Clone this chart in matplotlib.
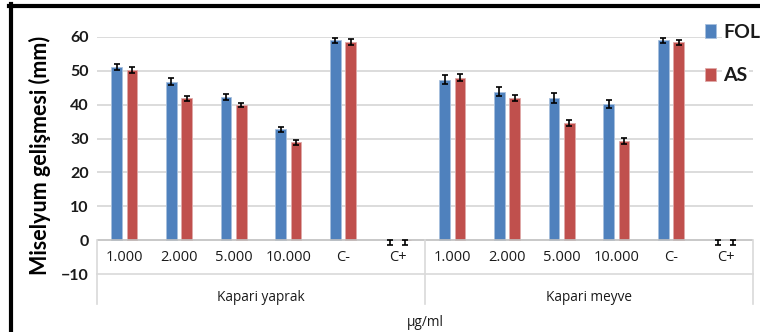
import matplotlib
matplotlib.use("Agg")
import matplotlib.pyplot as plt
from matplotlib.lines import Line2D
import numpy as np

plt.rcParams['font.family'] = ['Lato', 'DejaVu Sans']

# data
categories = ["1.000", "2.000", "5.000", "10.000", "C-", "C+"]
groups = ["Kapari yaprak", "Kapari meyve"]
fol = [51.2, 46.8, 42.2, 32.7, 59.0, 0.0,
       47.4, 43.9, 42.0, 40.2, 59.0, 0.0]
fol_err = [0.9, 1.0, 0.9, 0.8, 0.7, 1.3,
           1.4, 1.3, 1.4, 1.2, 0.7, 1.3]
as_vals = [50.3, 41.9, 39.9, 28.9, 58.4, 0.0,
           48.0, 41.9, 34.6, 29.3, 58.4, 0.0]
as_err = [0.8, 0.8, 0.7, 0.8, 0.9, 1.3,
          1.1, 0.9, 1.0, 1.0, 0.7, 1.3]

blue = "#4f81bd"
red = "#c0504d"
txt = "#1a1a1a"
cat_font = ['Open Sans', 'DejaVu Sans']

fig = plt.figure(figsize=(7.6, 3.32), dpi=100)
ax = fig.add_axes([97/760, 1-274/332, 656/760, 237/332])

x = np.arange(len(fol))
w = 0.195
off = 0.143

def errs(vals, e):
    lo = np.array(e)
    hi = np.where(np.array(vals) == 0, 0.1, e)
    return [lo, hi]

b1 = ax.bar(x - off, fol, w, color=blue, edgecolor="#a7c0de", linewidth=0.6, zorder=3, label="FOL")
b2 = ax.bar(x + off, as_vals, w, color=red, edgecolor="#e0a9a8", linewidth=0.6, zorder=3, label="AS")
ax.errorbar(x - off, fol, yerr=errs(fol, fol_err), fmt="none", ecolor="black",
            elinewidth=1.2, capsize=2.3, capthick=1.2, zorder=5)
ax.errorbar(x + off, as_vals, yerr=errs(as_vals, as_err), fmt="none", ecolor="black",
            elinewidth=1.2, capsize=2.3, capthick=1.2, zorder=5)

ax.set_xlim(-0.5, len(fol) - 0.5)
ax.set_ylim(-10, 60)
ax.set_yticks(range(-10, 61, 10))
ax.tick_params(axis="y", length=0, pad=6, labelsize=11.5)
for t in ax.get_yticklabels():
    t.set_fontweight("bold")
    t.set_color(txt)
ax.set_xticks([])
for s in ["top", "right", "left"]:
    ax.spines[s].set_visible(False)
ax.spines["bottom"].set_color("#d9d9d9")
ax.spines["bottom"].set_linewidth(1.2)

for g in range(10, 61, 10):
    ax.axhline(g, color="#d9d9d9", linewidth=1.3, zorder=1)
ax.axhline(0, color="#bfbfbf", linewidth=1.2, zorder=4)

# multi-level category labels
for i in range(len(fol)):
    ax.text(i, -5.0, categories[i % len(categories)], ha="center", va="center",
            fontsize=10.5, family=cat_font, color=txt)
for gi, g in enumerate(groups):
    ax.text(gi * 6 + 2.5, -16.8, g, ha="center", va="center", fontsize=9.8,
            family=cat_font, color=txt, clip_on=False)
for xs in [-0.5, 5.5, 11.5]:
    ax.plot([xs, xs], [0, -18.9], color="#d9d9d9", linewidth=1.2, clip_on=False, zorder=4)

ax.text(5.5, -24.3, "µg/ml", ha="center", va="center", fontsize=9.8,
        family=cat_font, color=txt, clip_on=False)

ax.set_ylabel("Miselyum gelişmesi (mm)", fontsize=15.5, fontweight="bold", labelpad=7)

leg = ax.legend(handles=[b1, b2], loc="upper left", bbox_to_anchor=(705/760, 1-24/332),
                bbox_transform=fig.transFigure, frameon=False, fontsize=14,
                handlelength=0.55, handleheight=0.7, handletextpad=0.4,
                labelspacing=1.35, borderpad=0, borderaxespad=0)
for t in leg.get_texts():
    t.set_fontweight("bold")
    t.set_color(txt)
    t.set_bbox(dict(facecolor="white", edgecolor="none", pad=1))

# outer frame (top and left edges)
fig.add_artist(Line2D([9/760, 1], [1-6/332, 1-6/332], color="black", linewidth=3,
                      transform=fig.transFigure))
fig.add_artist(Line2D([11/760, 11/760], [0, 1-4/332], color="black", linewidth=3,
                      transform=fig.transFigure))

fig.savefig("out.png", dpi=100)
